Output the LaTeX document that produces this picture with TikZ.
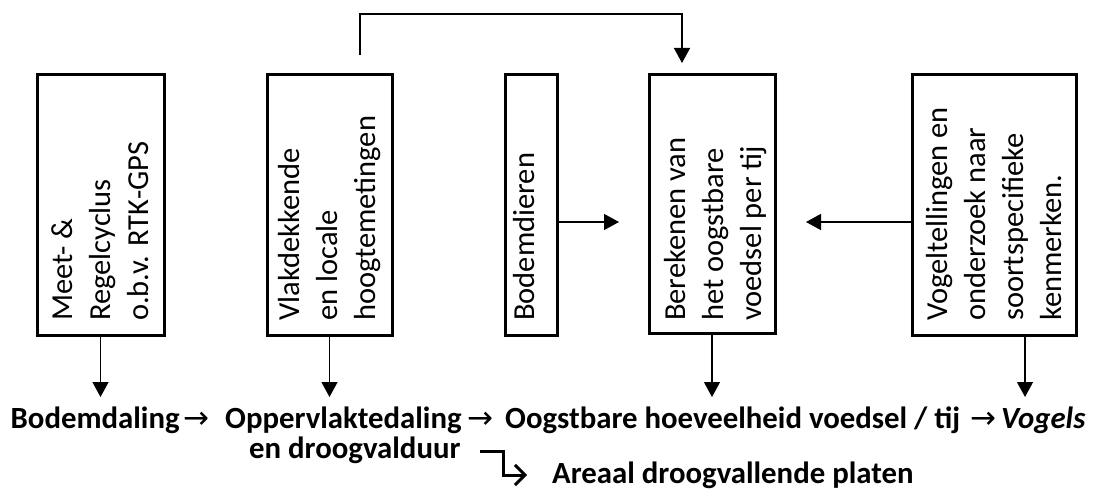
\documentclass[tikz,border=0pt]{standalone}
\usepackage{fontspec}
\setmainfont{Carlito}
\newfontfamily\arrfont{DejaVu Sans}
\usetikzlibrary{arrows.meta,calc}
\tikzset{
  box/.style={draw, line width=3pt, inner sep=0pt, minimum height=260pt},
  boxtext/.style={rotate=90, anchor=west, align=left, inner sep=0pt,
    font=\fontsize{30.5}{38}\selectfont},
  bottomtext/.style={anchor=base west, inner sep=0pt,
    font=\fontsize{30.8}{36}\selectfont\bfseries},
  arrtext/.style={anchor=base west, inner sep=0pt,
    font=\fontsize{31}{36}\selectfont\arrfont},
  conn/.style={line width=1.3pt, -{Triangle[length=15pt,width=16pt]}},
  toplink/.style={line width=1.5pt, -{Triangle[length=15pt,width=16pt]}},
  bent/.style={line width=3pt, -{Straight Barb[length=10pt,width=20pt]}}
}
\begin{document}
\begin{tikzpicture}[x=1pt,y=-1pt]
\useasboundingbox (0,0) rectangle (1098,489);
% boxes
\node[box, minimum width=127pt] (b1) at (100.5,205) {};
\node[box, minimum width=125pt] (b2) at (329.5,205) {};
\node[box, minimum width=52pt]  (b3) at (531,205) {};
\node[box, minimum width=126pt, minimum height=258pt] (b4) at (712,204) {};
\node[box, minimum width=164pt] (b5) at (994,205) {};
% box texts
\node[boxtext] (t1) at (100,321) {Meet- \&\\Regelcyclus\\o.b.v. RTK-GPS};
\node[boxtext] (t2) at (330,321) {Vlakdekkende\\en locale\\hoogtemetingen};
\node[boxtext] (t3) at (524,321) {Bodemdieren};
\node[boxtext] (t4) at (716,321) {Berekenen van\\het oogstbare\\voedsel per tij};
\node[boxtext] (t5) at (994,321) {Vogeltellingen en\\onderzoek naar\\soortspecifieke\\kenmerken.};
% bottom text
\node[bottomtext] (n1) at (10.5,428) {Bodemdaling};
\node[arrtext] (a1) at (183,428) {→};
\node[bottomtext] (n2) at (225,428) {Oppervlaktedaling};
\node[arrtext] (a2) at (467,428) {→};
\node[bottomtext] (n3) at (505,428) {Oogstbare hoeveelheid voedsel / tij};
\node[arrtext] (a3) at (970,428) {→};
\node[bottomtext] (n4) at (1001,428) {\itshape Vogels};
\node[bottomtext] (n5) at (249,458) {en droogvalduur};
\node[bottomtext] (n6) at (552,483) {Areaal droogvallende platen};
% coordinates
\coordinate (e1) at (100.5,397);
\coordinate (e2) at (329.5,397);
\coordinate (e4) at (712,397);
\coordinate (s5) at (1025,335);
\coordinate (e5) at (1025,397);
\coordinate (h3) at (557,222);
\coordinate (h3e) at (619,222);
\coordinate (h5) at (912,222);
\coordinate (h5e) at (806,222);
\coordinate (ts) at (360,55);
\coordinate (te) at (682,63);
\coordinate (bs) at (480,451);
\coordinate (be) at (527,475);
% connectors
\draw[conn] (b1.south) -- (e1);
\draw[conn] (b2.south) -- (e2);
\draw[conn] (b4.south) -- (e4);
\draw[conn] (s5) -- (e5);
\draw[conn] (h3) -- (h3e);
\draw[conn] (h5) -- (h5e);
\draw[toplink] (ts) -- (360,14) -- (682,14) -- (te);
\draw[bent] (bs) -- (503,451) -- (503,475) -- (be);
\end{tikzpicture}
\end{document}
